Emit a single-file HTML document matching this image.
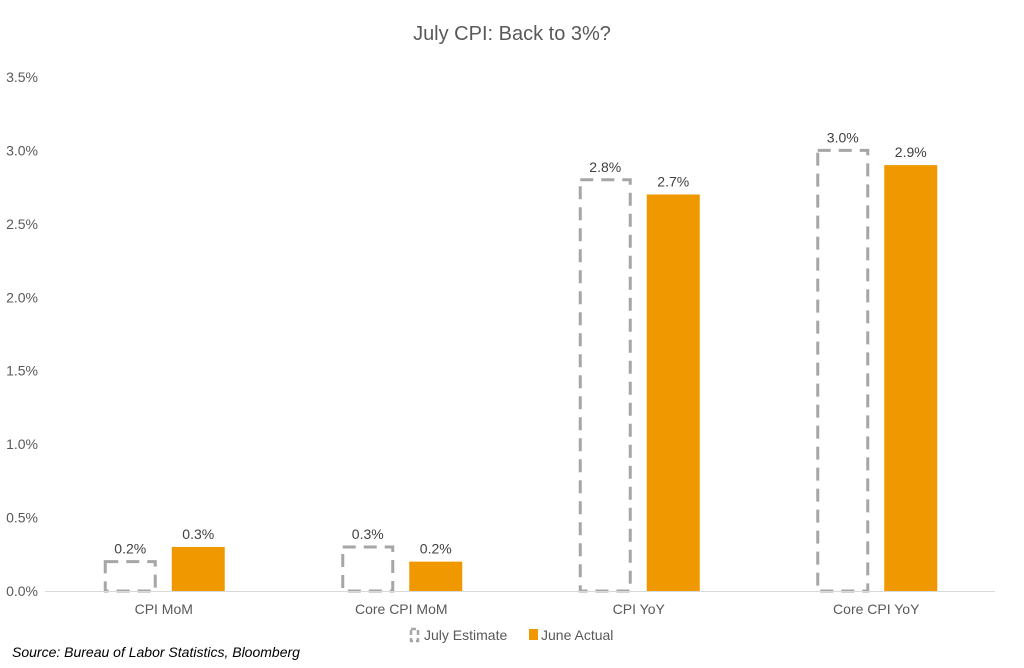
<!DOCTYPE html>
<html><head><meta charset="utf-8"><style>
body{margin:0;background:#fff;width:1024px;height:663px;overflow:hidden;font-family:"Liberation Sans",sans-serif}
</style></head><body>
<svg id="chart" width="1024" height="663" xmlns="http://www.w3.org/2000/svg" font-family="Liberation Sans, sans-serif">
<text x="512" y="40" text-anchor="middle" font-size="20" fill="#595959">July CPI: Back to 3%?</text>
<g id="yaxis"></g>
<g id="bars"></g>
<line x1="45" y1="591.5" x2="995" y2="591.5" stroke="#d9d9d9" stroke-width="1"/>
<g>
<rect x="411" y="629" width="7" height="12" fill="none" stroke="#a6a6a6" stroke-width="2.5" stroke-dasharray="5 3"/>
<text x="424" y="640" font-size="14" fill="#595959">July Estimate</text>
<rect x="529" y="629" width="9" height="11" fill="#f09800"/>
<text x="541" y="640" font-size="14" fill="#595959">June Actual</text>
</g>
<text x="12" y="657" font-size="14" font-style="italic" fill="#000">Source: Bureau of Labor Statistics, Bloomberg</text>
</svg>
<script>
const categories=["CPI MoM","Core CPI MoM","CPI YoY","Core CPI YoY"];
const julyEstimate=[0.2,0.3,2.8,3.0];
const juneActual=[0.3,0.2,2.7,2.9];
const yTicks=[0,0.5,1.0,1.5,2.0,2.5,3.0,3.5];
const NS="http://www.w3.org/2000/svg";
const x0=45,x1=995,yBase=591,yTop=77,yMax=3.5;
const y=v=>yBase-(v/yMax)*(yBase-yTop);
const band=(x1-x0)/categories.length;
const cx=i=>x0+band*(i+0.5);
function mk(tag,attrs,parent){const e=document.createElementNS(NS,tag);for(const k in attrs)e.setAttribute(k,attrs[k]);parent.appendChild(e);return e;}
const ya=document.getElementById('yaxis'),bg=document.getElementById('bars');
yTicks.forEach(t=>{
 const tx=mk('text',{x:38,y:y(t)+5,'text-anchor':'end','font-size':14,fill:'#595959'},ya);
 
 
 tx.textContent=t.toFixed(1)+'%';
});
const bw=53;
categories.forEach((c,i)=>{
 const c0=cx(i);
 const ex=c0-bw-7, ax=c0+8;
 const ey=y(julyEstimate[i]);
 const r=mk('rect',{x:ex+1.5,y:ey,width:bw-3,height:yBase-ey,fill:'none',stroke:'#a6a6a6','stroke-width':3,'stroke-dasharray':'13 8'},bg);
 
 
 const ay=y(juneActual[i]);
 const r2=mk('rect',{x:ax,y:ay,width:bw,height:yBase-ay,fill:'#f09800'},bg);
 
 
 const l1=mk('text',{x:ex+bw/2,y:ey-8,'text-anchor':'middle','font-size':14,fill:'#404040'},bg);
 
 
 l1.textContent=julyEstimate[i].toFixed(1)+'%';
 const l2=mk('text',{x:ax+bw/2,y:ay-8,'text-anchor':'middle','font-size':14,fill:'#404040'},bg);
 
 
 l2.textContent=juneActual[i].toFixed(1)+'%';
 const cl=mk('text',{x:c0,y:614,'text-anchor':'middle','font-size':14,fill:'#595959'},bg);
 
 
 cl.textContent=c;
});
</script>
</body></html>
